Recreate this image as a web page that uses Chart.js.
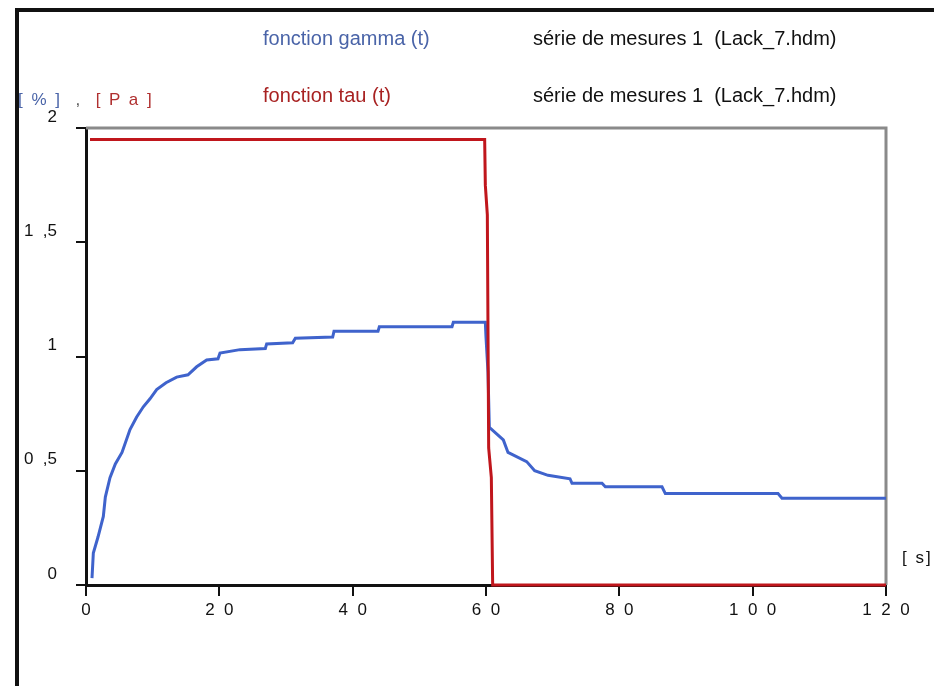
<!DOCTYPE html>
<html>
<head>
<meta charset="utf-8">
<script src="https://cdn.jsdelivr.net/npm/chart.js@4.4.0/dist/chart.umd.min.js"></script>
<style>
    html, body { margin: 0; padding: 0; background: #fff; }
    #wrap { position: relative; width: 934px; height: 686px; overflow: hidden; font-family: "Liberation Sans", Arial, sans-serif; }
    #frame { position: absolute; left: 15px; top: 8px; right: -10px; bottom: -10px; border-top: 4px solid #111; border-left: 4px solid #111; }
    #graph { position: absolute; left: 0; top: 0; }
    .txt { position: absolute; white-space: pre; font-size: 20px; line-height: 20px; }
</style>
</head>
<body>
<div id="wrap">
    <div id="frame"></div>
    <canvas id="graph" width="934" height="686"></canvas>
    <div class="txt" style="left:263px; top:28px; color:#4a64a8;">fonction gamma (t)</div>
    <div class="txt" style="left:533px; top:28px; color:#111;">série de mesures 1  (Lack_7.hdm)</div>
    <div class="txt" style="left:263px; top:85px; color:#a82222;">fonction tau (t)</div>
    <div class="txt" style="left:533px; top:85px; color:#111;">série de mesures 1  (Lack_7.hdm)</div>
    <div class="txt" style="left:18px; top:90px; font-size:17px; letter-spacing:2px;"><span style="color:#4a64a8;">[ % ]</span><span style="color:#555;">  ,  </span><span style="color:#b03030;">[ P a ]</span></div>
    <div class="txt" style="left:902px; top:548px; font-size:17px; letter-spacing:2px; color:#111;">[ s]</div>
</div>
<script>
// données
const gammaT = [0.9, 1.1, 1.8, 2.6, 2.9, 3.6, 4.4, 5.4, 6.6, 7.6, 8.6, 9.6, 10.6, 12.0, 13.6, 15.3, 16.6, 18.1, 19.8, 20.1, 23.1, 26.9, 27.1, 31.0, 31.4, 37.0, 37.2, 43.8, 44.0, 54.9, 55.1, 59.9, 60.0, 60.3, 60.5, 62.6, 63.3, 66.1, 67.3, 69.3, 72.6, 72.9, 77.4, 77.9, 86.4, 86.9, 103.8, 104.4, 120];
const gammaV = [0.03, 0.14, 0.21, 0.30, 0.385, 0.47, 0.53, 0.58, 0.68, 0.735, 0.78, 0.815, 0.855, 0.885, 0.91, 0.92, 0.955, 0.985, 0.99, 1.015, 1.03, 1.035, 1.055, 1.06, 1.08, 1.085, 1.11, 1.11, 1.13, 1.13, 1.15, 1.15, 1.085, 0.93, 0.69, 0.635, 0.58, 0.54, 0.50, 0.48, 0.465, 0.445, 0.445, 0.43, 0.43, 0.40, 0.40, 0.38, 0.38];
const tauT = [0.6, 59.8, 59.9, 60.2, 60.4, 60.8, 61.0, 120];
const tauV = [1.95, 1.95, 1.75, 1.62, 0.6, 0.47, 0, 0];
const xTicks = [0, 20, 40, 60, 80, 100, 120];
const yTicks = [0, 0.5, 1, 1.5, 2];

function toPoints(xs, ys) {
    return xs.map((x, i) => ({ x: x, y: ys[i] }));
}

// bords gris en haut et à droite de la zone du graphique
const plotFrame = {
    id: 'plotFrame',
    beforeDatasetsDraw(chart) {
        const a = chart.chartArea;
        const ctx = chart.ctx;
        ctx.save();
        ctx.strokeStyle = '#8a8a8a';
        ctx.lineWidth = 3;
        ctx.beginPath();
        ctx.moveTo(a.left, a.top);
        ctx.lineTo(a.right, a.top);
        ctx.lineTo(a.right, a.bottom);
        ctx.stroke();
        ctx.restore();
    }
};

const tickFont = { family: 'Liberation Sans', size: 17 };

new Chart(document.getElementById('graph'), {
    type: 'scatter',
    data: {
        datasets: [
            {
                label: 'fonction gamma (t)',
                data: toPoints(gammaT, gammaV),
                showLine: true,
                borderColor: '#3f63cc',
                borderWidth: 3,
                pointRadius: 0,
                tension: 0,
                order: 1,
                clip: false
            },
            {
                label: 'fonction tau (t)',
                data: toPoints(tauT, tauV),
                showLine: true,
                borderColor: '#c0161c',
                borderWidth: 3,
                pointRadius: 0,
                tension: 0,
                order: 0,
                clip: false
            }
        ]
    },
    options: {
        responsive: false,
        animation: false,
        layout: { padding: { left: 0, right: 48, top: 128, bottom: 61 } },
        plugins: { legend: { display: false }, tooltip: { enabled: false } },
        scales: {
            x: {
                type: 'linear',
                min: 0,
                max: 120,
                afterBuildTicks: scale => { scale.ticks = xTicks.map(v => ({ value: v })); },
                afterFit: scale => { scale.height = 40; },
                grid: { drawOnChartArea: false, color: '#111', tickLength: 11, lineWidth: 2 },
                border: { color: '#111', width: 3 },
                ticks: {
                    color: '#111',
                    font: tickFont,
                    padding: 4,
                    maxRotation: 0,
                    callback: v => String(v).split('').join('  ')
                }
            },
            y: {
                type: 'linear',
                min: 0,
                max: 2,
                afterBuildTicks: scale => { scale.ticks = yTicks.map(v => ({ value: v })); },
                afterFit: scale => { scale.width = 86; },
                grid: { drawOnChartArea: false, color: '#111', tickLength: 10, lineWidth: 2 },
                border: { color: '#111', width: 3 },
                ticks: {
                    color: '#111',
                    font: tickFont,
                    padding: 19,
                    labelOffset: -11,
                    callback: v => String(v).replace('.', '  ,')
                }
            }
        }
    },
    plugins: [plotFrame]
});
</script>
</body>
</html>
